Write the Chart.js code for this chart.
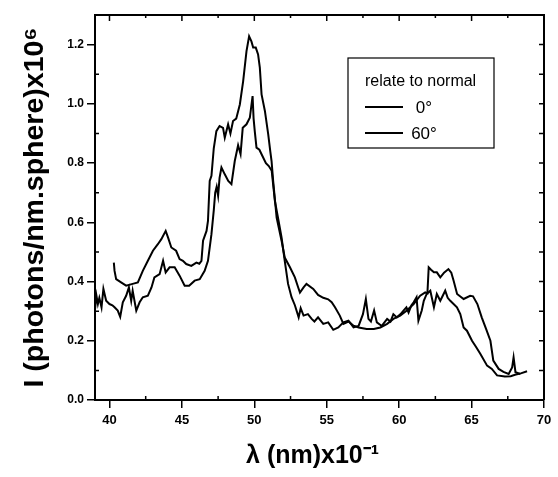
<!DOCTYPE html>
<html><head><meta charset="utf-8">
<script src="https://cdn.jsdelivr.net/npm/chart.js@4.4.1/dist/chart.umd.min.js"></script>
<style>html,body{margin:0;padding:0;background:#fff}#wrap{width:558px;height:477px}</style>
</head><body><div id="wrap"><canvas id="c" width="558" height="477"></canvas></div>
<script>
// ---- data ----
const xTickValues = [40, 45, 50, 55, 60, 65, 70];
const xMinorValues = [42.5, 47.5, 52.5, 57.5, 62.5, 67.5];
const yTickValues = [0, 0.2, 0.4, 0.6, 0.8, 1.0, 1.2];
const yMinorValues = [0.1, 0.3, 0.5, 0.7, 0.9, 1.1];
const seriesLabels = ['0°', '60°'];
const legendTitle = 'relate to normal';
const xTitle = 'λ (nm)x10⁻¹';
const yTitle = 'I (photons/nm.sphere)x10⁶';

const lambdaA = [39.0,39.1,39.2,39.3,39.45,39.58,39.77,40.0,40.2,40.35,40.57,40.74,40.92,41.15,41.34,41.5,41.6,41.85,42.08,42.3,42.65,42.9,43.1,43.46,43.7,43.88,44.15,44.5,44.84,45.19,45.5,45.88,46.23,46.57,46.8,47.04,47.2,47.3,47.4,47.5,47.6,47.73,47.96,48.2,48.42,48.65,48.88,49.05,49.2,49.46,49.69,49.88,49.95,50.03,50.15,50.35,50.5,50.8,51.0,51.2,51.42,51.65,51.88,52.1,52.33,52.57,52.8,53.06,53.2,53.4,53.7,53.96,54.15,54.4,54.76,55.1,55.45,55.8,56.15,56.5,56.85,57.2,57.5,57.7,57.88,58.05,58.27,58.46,58.8,59.17,59.4,59.6,59.84,60.1,60.3,60.5,60.65,60.85,61.0,61.2,61.33,61.56,61.7,61.9,62.15,62.4,62.6,62.84,63.18,63.35,63.53,63.99,64.22,64.45,64.68,65.03,65.3,65.6,66.07,66.4,66.76,67.3,67.7,68.0,68.4,68.83];
const intensityA = [0.305,0.352,0.324,0.345,0.313,0.375,0.335,0.324,0.32,0.313,0.302,0.281,0.33,0.352,0.38,0.335,0.369,0.302,0.33,0.347,0.352,0.38,0.414,0.425,0.47,0.431,0.448,0.448,0.42,0.386,0.386,0.403,0.408,0.436,0.47,0.56,0.64,0.70,0.72,0.69,0.75,0.785,0.762,0.74,0.729,0.807,0.86,0.83,0.919,0.931,0.953,1.026,0.95,0.908,0.852,0.845,0.83,0.80,0.79,0.774,0.672,0.611,0.549,0.47,0.392,0.347,0.32,0.279,0.31,0.285,0.29,0.274,0.265,0.279,0.257,0.262,0.237,0.245,0.262,0.268,0.245,0.25,0.29,0.341,0.274,0.265,0.302,0.262,0.25,0.274,0.265,0.29,0.279,0.29,0.302,0.313,0.295,0.32,0.33,0.347,0.268,0.302,0.335,0.358,0.369,0.313,0.358,0.335,0.369,0.345,0.335,0.313,0.29,0.245,0.234,0.2,0.18,0.156,0.116,0.105,0.083,0.079,0.08,0.085,0.09,0.097];

const lambdaB = [40.3,40.35,40.46,40.8,41.15,41.6,41.96,42.3,42.65,43.0,43.34,43.58,43.88,44.04,44.27,44.6,44.84,45.07,45.3,45.65,46.0,46.2,46.35,46.46,46.7,46.8,46.92,47.04,47.2,47.38,47.6,47.84,47.96,48.19,48.35,48.53,48.75,49.0,49.23,49.46,49.64,49.8,49.92,50.1,50.26,50.38,50.5,50.73,50.96,51.1,51.19,51.3,51.54,51.88,52.1,52.46,52.8,53.03,53.15,53.4,53.6,54.07,54.4,54.76,55.1,55.34,55.57,55.9,56.15,56.5,56.85,57.2,57.76,58.25,58.7,59.17,59.6,60.07,60.53,61.0,61.45,61.8,61.95,62.04,62.2,62.4,62.6,62.84,63.1,63.4,63.6,63.76,64.0,64.45,64.9,65.1,65.4,65.7,66.0,66.3,66.5,66.87,67.2,67.56,67.8,67.9,68.03,68.37];
const intensityB = [0.464,0.436,0.408,0.397,0.386,0.392,0.397,0.436,0.47,0.504,0.526,0.543,0.571,0.549,0.515,0.504,0.476,0.47,0.459,0.453,0.464,0.46,0.47,0.538,0.571,0.605,0.74,0.757,0.85,0.908,0.925,0.919,0.886,0.931,0.90,0.942,0.95,0.998,1.077,1.178,1.228,1.211,1.19,1.19,1.167,1.122,1.032,0.976,0.897,0.84,0.807,0.74,0.616,0.538,0.481,0.448,0.414,0.38,0.363,0.38,0.392,0.375,0.355,0.345,0.34,0.33,0.313,0.285,0.257,0.265,0.251,0.245,0.24,0.24,0.245,0.257,0.274,0.285,0.302,0.324,0.352,0.363,0.36,0.448,0.44,0.431,0.431,0.414,0.43,0.442,0.43,0.403,0.358,0.341,0.352,0.35,0.324,0.279,0.24,0.2,0.133,0.105,0.095,0.088,0.11,0.144,0.094,0.088];

const toPoints = (xs, ys) => xs.map((x, i) => ({x: x, y: ys[i]}));

const FONT = "'Liberation Sans', Arial, sans-serif";

const framePlugin = {
  id: 'frame',
  afterDraw(chart) {
    const ctx = chart.ctx, a = chart.chartArea;
    const xs = chart.scales.x, ys = chart.scales.y;
    ctx.save();
    ctx.strokeStyle = '#000';
    ctx.lineWidth = 2;
    ctx.beginPath();
    ctx.moveTo(a.left, a.top); ctx.lineTo(a.right, a.top); ctx.lineTo(a.right, a.bottom);
    ctx.stroke();
    ctx.lineWidth = 1.5;
    ctx.beginPath();
    xTickValues.forEach(v => { const p = xs.getPixelForValue(v); if (p > a.left + 2 && p < a.right - 2) { ctx.moveTo(p, a.top); ctx.lineTo(p, a.top + 6); } });
    xMinorValues.forEach(v => { const p = xs.getPixelForValue(v); ctx.moveTo(p, a.bottom); ctx.lineTo(p, a.bottom - 4); ctx.moveTo(p, a.top); ctx.lineTo(p, a.top + 3); });
    yTickValues.concat(yMinorValues).forEach(v => { const p = ys.getPixelForValue(v); if (p < a.bottom - 2) { ctx.moveTo(a.right, p); ctx.lineTo(a.right - 5, p); } });
    yMinorValues.forEach(v => { const p = ys.getPixelForValue(v); ctx.moveTo(a.left, p); ctx.lineTo(a.left + 4, p); });
    ctx.stroke();

    // legend box
    const bx = a.left + 253, by = a.top + 43, bw = 146, bh = 90;
    ctx.lineWidth = 1.2;
    ctx.strokeRect(bx, by, bw, bh);
    ctx.fillStyle = '#000';
    ctx.font = '16px ' + FONT;
    ctx.textAlign = 'left';
    ctx.textBaseline = 'middle';
    ctx.fillText(legendTitle, bx + 17, by + 24);
    chart.data.datasets.forEach((ds, i) => {
      const ly = by + 49 + i * 26;
      ctx.strokeStyle = ds.borderColor;
      ctx.lineWidth = ds.borderWidth;
      ctx.beginPath(); ctx.moveTo(bx + 17, ly); ctx.lineTo(bx + 55, ly); ctx.stroke();
      ctx.textAlign = 'center';
      ctx.font = '17px ' + FONT;
      ctx.fillText(ds.label, bx + 76, ly + 1);
    });
    ctx.restore();
  }
};

new Chart(document.getElementById('c'), {
  type: 'line',
  data: {
    datasets: [
      {label: seriesLabels[0], data: toPoints(lambdaA, intensityA), borderColor: '#000', borderWidth: 2, pointRadius: 0, tension: 0, fill: false},
      {label: seriesLabels[1], data: toPoints(lambdaB, intensityB), borderColor: '#000', borderWidth: 2, pointRadius: 0, tension: 0, fill: false}
    ]
  },
  options: {
    responsive: false,
    devicePixelRatio: 1,
    animation: false,
    layout: {padding: {top: 15, right: 14, left: 0, bottom: 0}},
    plugins: {legend: {display: false}, tooltip: {enabled: false}},
    scales: {
      x: {
        type: 'linear', min: 39, max: 70,
        afterBuildTicks: s => { s.ticks = xTickValues.map(v => ({value: v})); },
        afterFit: s => { s.height = 77; },
        grid: {display: true, drawOnChartArea: false, drawTicks: true, tickLength: 8, color: '#000', lineWidth: 1.5},
        border: {display: true, color: '#000', width: 2},
        ticks: {color: '#000', font: {family: FONT, size: 13, weight: 'bold'}, padding: 5, maxRotation: 0, callback: v => String(v)},
        title: {display: true, text: xTitle + '  ', color: '#000', font: {family: FONT, size: 25, weight: 'bold'}, padding: {top: 0, bottom: 6}}
      },
      y: {
        type: 'linear', min: 0, max: 1.3,
        afterBuildTicks: s => { s.ticks = yTickValues.map(v => ({value: v})); },
        afterFit: s => { s.width = 95; },
        grid: {display: true, drawOnChartArea: false, drawTicks: true, tickLength: 8, color: '#000', lineWidth: 1.5},
        border: {display: true, color: '#000', width: 2},
        ticks: {color: '#000', font: {family: FONT, size: 12, weight: 'bold'}, padding: 3, callback: v => Number(v).toFixed(1)},
        title: {display: true, text: yTitle, color: '#000', font: {family: FONT, size: 28.5, weight: 'bold'}, padding: {top: 18, bottom: 0}}
      }
    }
  },
  plugins: [framePlugin]
});
</script></body></html>
